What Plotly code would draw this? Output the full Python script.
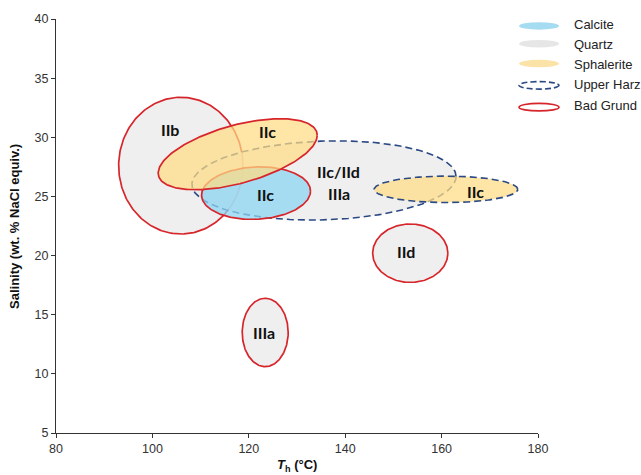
import numpy as np
import plotly.graph_objects as go

# ---- data -----------------------------------------------------------------
# Fluid-inclusion fields: centre (Th, salinity), half-width in Th, half-height
# in salinity, and the salinity offset of the right-most point (tilt).
field_names = ["Quartz IIb (BG)", "Quartz IIc/IId/IIIa (UH)", "Quartz IId (BG)",
               "Quartz IIIa (BG)", "Calcite IIc (BG)", "Sphalerite IIc (BG)",
               "Sphalerite IIc (UH)"]
field_mineral = ["Quartz", "Quartz", "Quartz", "Quartz", "Calcite", "Sphalerite", "Sphalerite"]
field_district = ["Bad Grund", "Upper Harz", "Bad Grund", "Bad Grund", "Bad Grund",
                  "Bad Grund", "Upper Harz"]
field_th = [105.9, 135.6, 153.5, 123.4, 121.5, 117.7, 160.9]
field_sal = [27.6, 26.35, 20.2, 13.5, 25.28, 28.57, 25.6]
field_half_th = [12.9, 27.4, 7.8, 4.77, 11.3, 16.5, 14.9]
field_half_sal = [5.78, 3.35, 2.47, 2.89, 2.22, 3.0, 1.12]
field_tilt = [0.0, 0.33, 0.0, 0.0, 0.17, 1.6, 0.0]

# Stage labels written inside the fields
label_text = ["IIb", "IIc", "IIc", "IIc/IId", "IIIa", "IIc", "IId", "IIIa"]
label_th = [103.6, 123.8, 123.4, 138.7, 138.7, 167.1, 152.6, 123.2]
label_sal = [30.66, 30.46, 25.18, 27.1, 25.25, 25.43, 20.32, 13.46]

legend_items = ["Calcite", "Quartz", "Sphalerite", "Upper Harz", "Bad Grund"]

x_ticks = [80, 100, 120, 140, 160, 180]
y_ticks = [5, 10, 15, 20, 25, 30, 35, 40]

# ---- styles ---------------------------------------------------------------
fill_colors = {
    "Quartz": "rgba(234,234,234,0.75)",
    "Calcite": "rgba(141,213,242,0.75)",
    "Sphalerite": "rgba(255,220,132,0.72)",
}
legend_fill = {"Calcite": "#a6dcf2", "Quartz": "#e6e6e6", "Sphalerite": "#fbe2a6"}
outline = {
    "Bad Grund": dict(color="#d7262b", width=1.7, dash="solid"),
    "Upper Harz": dict(color="#2b4a85", width=1.6, dash="7px,4px"),
}

W, H = 641, 475
ML, MR, MT, MB = 56, 103, 15, 42
PW, PH = W - ML - MR, H - MT - MB


def px_to_paper(px, py):
    return (px - ML) / PW, (H - MB - py) / PH


fig = go.Figure()

t = np.linspace(0, 2 * np.pi, 241)
for name, mineral, district, cx, cy, a, v, k in zip(
        field_names, field_mineral, field_district, field_th, field_sal,
        field_half_th, field_half_sal, field_tilt):
    b = np.sqrt(v ** 2 - k ** 2)
    xs = cx + a * np.cos(t)
    ys = cy + k * np.cos(t) + b * np.sin(t)
    fig.add_trace(go.Scatter(
        x=xs, y=ys, mode="lines", fill="toself",
        fillcolor=fill_colors[mineral], line=outline[district],
        name=name, showlegend=False, hoverinfo="skip"))

for txt, x, y in zip(label_text, label_th, label_sal):
    fig.add_annotation(x=x, y=y, text=f"<b>{txt}</b>", showarrow=False,
                       font=dict(family="Lato", size=16, color="#111111"),
                       xanchor="center", yanchor="middle")

# Legend drawn as small ellipses with text beside them
sym_y = [22, 40, 60, 82, 104]
txt_y = [21, 41, 61, 81, 102]
for item, sy, ty in zip(legend_items, sym_y, txt_y):
    x0, y1 = px_to_paper(519, sy - 3.8)
    x1, y0 = px_to_paper(559, sy + 3.8)
    if item in legend_fill:
        fig.add_shape(type="circle", xref="paper", yref="paper",
                      x0=x0, x1=x1, y0=y0, y1=y1,
                      fillcolor=legend_fill[item], line=dict(width=0))
    else:
        ln = dict(outline[item])
        if item == "Upper Harz":
            ln["dash"] = "6px,3px"
        fig.add_shape(type="circle", xref="paper", yref="paper",
                      x0=x0, x1=x1, y0=y0, y1=y1,
                      fillcolor="rgba(0,0,0,0)", line=ln)
    tx, typ = px_to_paper(572, ty)
    fig.add_annotation(xref="paper", yref="paper", x=tx, y=typ, text=item,
                       showarrow=False, xanchor="left", yanchor="middle",
                       font=dict(family="Liberation Sans", size=13, color="#222222"))

# Axis titles
ax_x, ax_y = px_to_paper(297, 466)
fig.add_annotation(xref="paper", yref="paper", x=ax_x, y=ax_y,
                   text="<b><i>T</i></b><sub><b>h</b></sub><b> (°C)</b>",
                   showarrow=False, xanchor="center", yanchor="middle",
                   font=dict(family="Liberation Sans", size=13, color="#111111"))
ay_x, ay_y = px_to_paper(15, 225)
fig.add_annotation(xref="paper", yref="paper", x=ay_x, y=ay_y,
                   text="<b>Salinity (wt. % NaCl equiv.)</b>", textangle=-90,
                   showarrow=False, xanchor="center", yanchor="middle",
                   font=dict(family="Liberation Sans", size=13, color="#111111"))

axis_style = dict(showline=True, linecolor="#333333", linewidth=1.3,
                  ticks="outside", ticklen=4, tickwidth=1.2, tickcolor="#333333",
                  showgrid=False, zeroline=False, mirror=False,
                  tickfont=dict(family="Liberation Sans", size=12.5, color="#333333"))

fig.update_xaxes(range=[80, 180], tickvals=x_ticks, **axis_style)
fig.update_yaxes(range=[5, 40], tickvals=y_ticks, **axis_style)

fig.update_layout(
    width=W, height=H,
    margin=dict(l=ML, r=MR, t=MT, b=MB),
    plot_bgcolor="white", paper_bgcolor="white",
    showlegend=False, hovermode=False,
)

fig.write_html("out.html")
